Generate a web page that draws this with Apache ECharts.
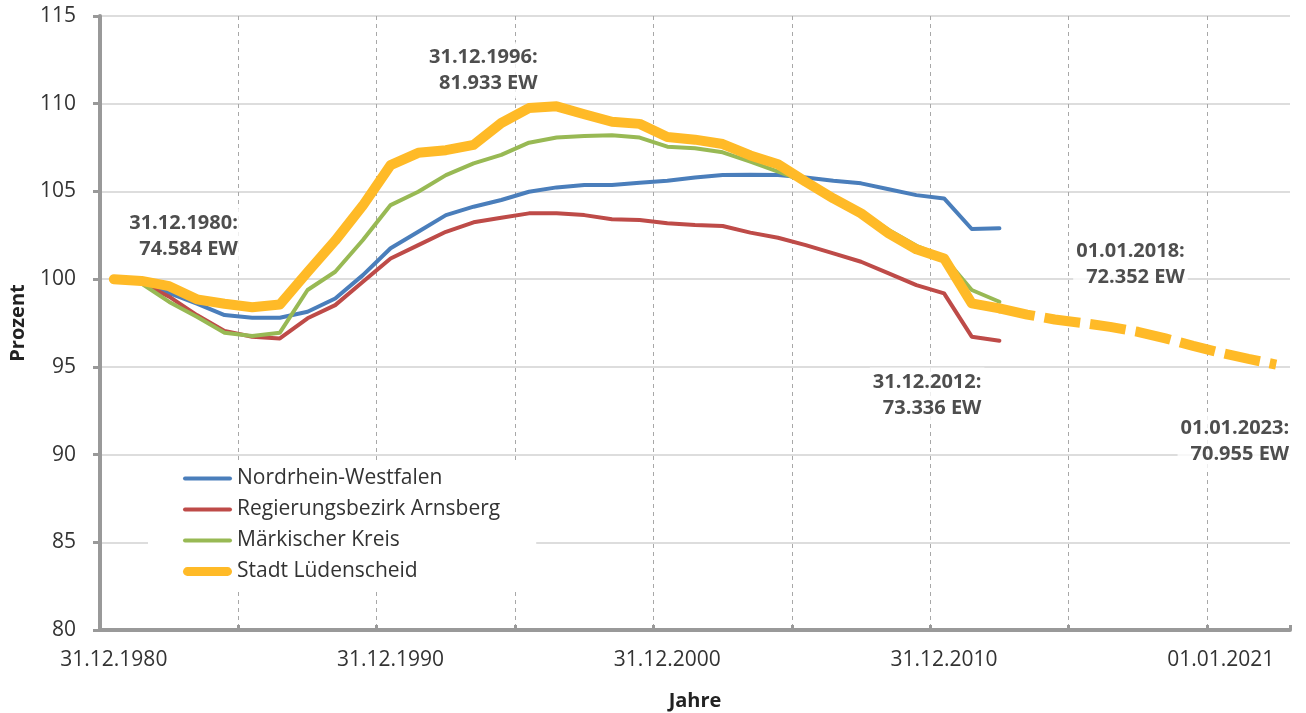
<!DOCTYPE html>
<html>
<head>
<meta charset="utf-8">
<title>Bevölkerungsentwicklung Lüdenscheid</title>
<script src="https://cdn.jsdelivr.net/npm/echarts@6/dist/echarts.min.js"></script>
<style>
  html, body { margin: 0; padding: 0; background: #fff; }
  #chart { width: 1306px; height: 713px; }
</style>
</head>
<body>
<div id="chart"></div>
<script>
// Stichtage (eine Kategorie je Jahr)
const categories = [
  '31.12.1980', '31.12.1981', '31.12.1982', '31.12.1983', '31.12.1984', '31.12.1985',
  '31.12.1986', '31.12.1987', '31.12.1988', '31.12.1989', '31.12.1990', '31.12.1991',
  '31.12.1992', '31.12.1993', '31.12.1994', '31.12.1995', '31.12.1996', '31.12.1997',
  '31.12.1998', '31.12.1999', '31.12.2000', '31.12.2001', '31.12.2002', '31.12.2003',
  '31.12.2004', '31.12.2005', '31.12.2006', '31.12.2007', '31.12.2008', '31.12.2009',
  '31.12.2010', '31.12.2011', '31.12.2012',
  '01.01.2014', '01.01.2015', '01.01.2016', '01.01.2017', '01.01.2018', '01.01.2019',
  '01.01.2020', '01.01.2021', '01.01.2022', '01.01.2023'
];

// Prozent, 31.12.1980 = 100
const nrw = [
  100, 99.85, 99.2, 98.6, 97.95, 97.8, 97.8, 98.14, 98.9, 100.23,
  101.76, 102.7, 103.65, 104.13, 104.51, 104.98, 105.23, 105.37, 105.37, 105.5,
  105.61, 105.8, 105.93, 105.95, 105.93, 105.8, 105.61, 105.46, 105.12, 104.79,
  104.6, 102.86, 102.9
];
const arnsberg = [
  100, 99.8, 99.0, 97.95, 97.05, 96.72, 96.62, 97.77, 98.52, 99.85,
  101.18, 101.94, 102.7, 103.24, 103.5, 103.75, 103.75, 103.65, 103.41, 103.37,
  103.18, 103.08, 103.03, 102.65, 102.36, 101.94, 101.47, 100.99, 100.33, 99.66,
  99.19, 96.72, 96.49
];
const maerkischerKreis = [
  100, 99.75, 98.7, 97.85, 96.95, 96.76, 96.95, 99.38, 100.42, 102.23,
  104.22, 104.98, 105.93, 106.6, 107.08, 107.78, 108.07, 108.16, 108.2, 108.07,
  107.55, 107.46, 107.23, 106.7, 106.13, 105.55, 104.7, 103.85, 102.8, 101.9,
  101.25, 99.38, 98.71
];
const luedenscheid = [
  100, 99.9, 99.6, 98.85, 98.6, 98.4, 98.55, 100.4, 102.2, 104.2,
  106.5, 107.2, 107.35, 107.65, 108.9, 109.75, 109.85, 109.4, 108.97, 108.85,
  108.1, 107.95, 107.7, 107.05, 106.55, 105.55, 104.6, 103.75, 102.6, 101.7,
  101.18, 98.62, 98.33
];
// Prognose ab 31.12.2012
const prognoseStart = 32;
const luedenscheidPrognose = [
  98.33, 97.98, 97.7, 97.5, 97.28, 97.0, 96.62, 96.2, 95.8, 95.45, 95.13
];

const yTicks = [80, 85, 90, 95, 100, 105, 110, 115];

const notes = [
  { idx: 0, text: '31.12.1980:\n74.584 EW' },
  { idx: 16, text: '31.12.1996:\n81.933 EW' },
  { idx: 32, text: '31.12.2012:\n73.336 EW' },
  { idx: 37, text: '01.01.2018:\n72.352 EW' },
  { idx: 42, text: '01.01.2023:\n70.955 EW' }
];
const noteOffsets = [[127, -43], [-16, -36], [-15, 87], [50, -67], [16, 77]];

const font = '"Open Sans", "Noto Sans", sans-serif';
const chart = echarts.init(document.getElementById('chart'));

const fullLued = categories.map((c, i) =>
  i < prognoseStart ? luedenscheid[i] : luedenscheidPrognose[i - prognoseStart]);
const prognoseData = categories.map((c, i) =>
  i < prognoseStart ? null : luedenscheidPrognose[i - prognoseStart]);

const lineSeries = (name, data, color, width) => ({
  name: name,
  type: 'line',
  data: data,
  symbol: 'none',
  animation: false,
  lineStyle: { color: color, width: width, cap: 'round', join: 'round' },
  itemStyle: { color: color }
});

const thinIcon = 'path://M2,0 L47,0 A2,2 0 0 1 47,4 L2,4 A2,2 0 0 1 2,0 Z';
const thickIcon = 'path://M4,0 L45,0 A4.5,4.5 0 0 1 45,9 L4,9 A4.5,4.5 0 0 1 4,0 Z';

const option = {
  backgroundColor: '#fff',
  animation: false,
  textStyle: { fontFamily: font },
  grid: { left: 100, right: 16, top: 16, bottom: 83, containLabel: false, outerBoundsMode: 'none' },
  legend: {
    orient: 'vertical',
    left: 148,
    top: 462,
    padding: [6, 36, 7, 35],
    backgroundColor: '#fff',
    itemWidth: 49,
    itemHeight: 21,
    itemGap: 10,
    selectedMode: false,
    textStyle: { fontSize: 21, color: '#333', fontFamily: font },
    data: [
      { name: 'Nordrhein-Westfalen', icon: thinIcon },
      { name: 'Regierungsbezirk Arnsberg', icon: thinIcon },
      { name: 'Märkischer Kreis', icon: thinIcon },
      { name: 'Stadt Lüdenscheid', icon: thickIcon }
    ]
  },
  xAxis: {
    type: 'category',
    data: categories,
    boundaryGap: true,
    name: 'Jahre',
    nameLocation: 'middle',
    nameGap: 61,
    nameTextStyle: { fontSize: 20, fontWeight: 'bold', color: '#222', fontFamily: font },
    axisLine: { show: true, lineStyle: { color: '#999', width: 4 } },
    axisTick: { show: true, inside: true, interval: 4, length: 5, lineStyle: { color: '#999', width: 3 } },
    axisLabel: { interval: 9, margin: 20, fontSize: 21, color: '#333', fontFamily: font },
    splitLine: {
      show: true, interval: 4, showMinLine: false, showMaxLine: false,
      lineStyle: { color: '#a8a8a8', width: 1, type: [4, 4] }
    }
  },
  yAxis: {
    type: 'value',
    min: 80,
    max: 115,
    interval: 5,
    name: 'Prozent',
    nameLocation: 'middle',
    nameGap: 72,
    nameRotate: 90,
    nameTextStyle: { fontSize: 20, fontWeight: 'bold', color: '#222', fontFamily: font },
    axisLine: { show: true, lineStyle: { color: '#999', width: 4 } },
    axisTick: { show: true, inside: false, length: 7, lineStyle: { color: '#999', width: 3 } },
    axisLabel: {
      margin: 24, fontSize: 21, color: '#333', fontFamily: font,
      formatter: v => (yTicks.indexOf(v) >= 0 ? String(v) : '')
    },
    splitLine: { show: true, lineStyle: { color: '#d2d2d2', width: 1.5 } }
  },
  series: [
    lineSeries('Nordrhein-Westfalen', nrw, '#4a7ebb', 4),
    lineSeries('Regierungsbezirk Arnsberg', arnsberg, '#be4b48', 4),
    lineSeries('Märkischer Kreis', maerkischerKreis, '#98b954', 4),
    lineSeries('Stadt Lüdenscheid', luedenscheid, '#ffba27', 10),
    {
      name: 'Stadt Lüdenscheid',
      type: 'line',
      data: prognoseData,
      symbol: 'none',
      animation: false,
      lineStyle: { color: '#ffba27', width: 10, type: [36, 10], cap: 'butt' },
      itemStyle: { color: '#ffba27' }
    },
    {
      name: 'Beschriftung',
      type: 'scatter',
      symbolSize: 0,
      silent: true,
      z: 5,
      data: notes.map((n, k) => ({
        value: [n.idx, fullLued[n.idx]],
        label: {
          show: true,
          position: 'inside',
          offset: noteOffsets[k],
          align: 'right',
          verticalAlign: 'middle',
          formatter: n.text,
          fontSize: 20,
          fontWeight: 'bold',
          lineHeight: 26,
          color: '#222',
          fontFamily: font,
          backgroundColor: '#fff',
          padding: [2, 3]
        }
      }))
    }
  ]
};

chart.setOption(option);
window.addEventListener('resize', chart.resize);
</script>
</body>
</html>
